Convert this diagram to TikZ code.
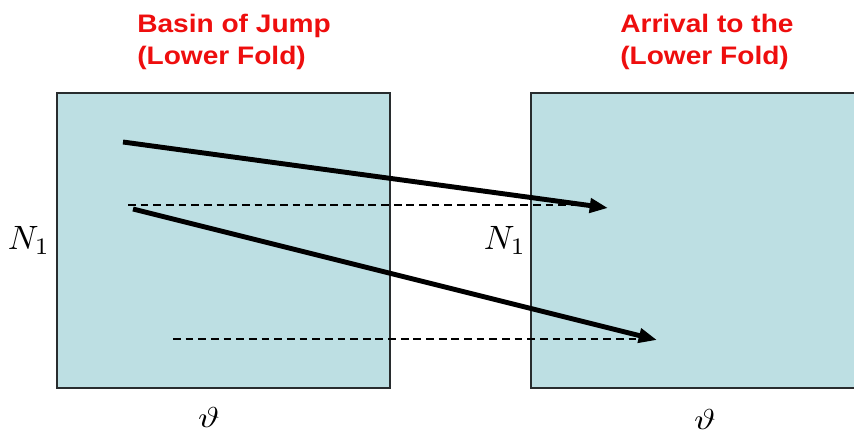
\documentclass[tikz,border=0pt]{standalone}
\usepackage{fontspec}
\newfontfamily\titlefont[FakeStretch=1.11]{Liberation Sans}
\usepackage{graphicx}
\usepackage{tikz}
\usetikzlibrary{arrows.meta}
\definecolor{basinblue}{RGB}{189,223,227}
\definecolor{titlered}{RGB}{238,14,14}
\definecolor{edgegray}{RGB}{40,44,46}
\newcommand{\bigsym}[3]{\scalebox{#1}[#2]{$#3$}}

\begin{document}
\begin{tikzpicture}[
  x=0.025cm, y=-0.025cm,
  every node/.style={inner sep=0pt},
  ttl/.style={anchor=north west, align=left, text=titlered,
    font=\titlefont\bfseries\fontsize{18}{22.9}\selectfont},
  fold/.style={fill=basinblue, draw=edgegray, line width=1.2pt},
  level/.style={line width=1.3pt, dash pattern=on 5.5pt off 3.5pt},
  jump/.style={line width=3.5pt, -{Triangle[length=13pt,width=10pt]}},
]
\useasboundingbox (0,0) rectangle (854,435);
% the two folds (right one runs off the page)
\draw[fold] (57,93) rectangle (390,388);
\fill[basinblue] (531,93) rectangle (854,388);
\draw[edgegray, line width=1.2pt] (855,93) -- (531,93) -- (531,388) -- (855,388);
% titles
\node[ttl] (basin) at (137,14) {Basin of Jump\\(Lower Fold)};
\node[ttl] (arrival) at (620,14) {Arrival to the\\(Lower Fold)};
% axis labels
\node (nl) at (29,240) {\bigsym{2.4}{2.4}{N_1}};
\node (nr) at (505,240) {\bigsym{2.4}{2.4}{N_1}};
\node (thl) at (209,417) {\bigsym{2.6}{2.05}{\vartheta}};
\node (thr) at (705,419) {\bigsym{2.6}{2.05}{\vartheta}};
% end points: start/end of each level and jump
\foreach \nm/\px/\py in {
  la/128/205, lb/592/205, ma/173/339, mb/640/339,
  ja/123/142, jb/608/208, ka/133/209, kb/657/340}
  \coordinate (\nm) at (\px,\py);
\draw[level] (la) -- (lb);
\draw[level] (ma) -- (mb);
\draw[jump] (ja) -- (jb);
\draw[jump] (ka) -- (kb);
\end{tikzpicture}
\end{document}
